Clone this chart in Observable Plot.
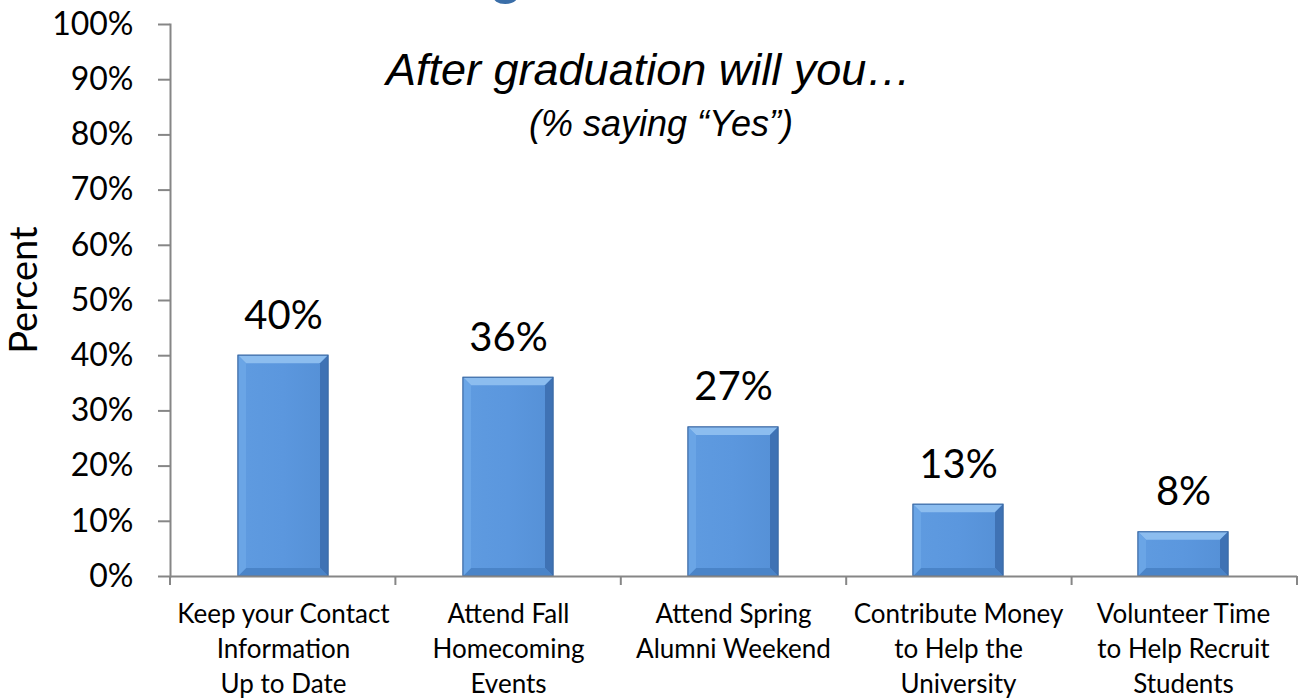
<!DOCTYPE html>
<html>
<head>
<meta charset="utf-8">
<script src="https://cdn.jsdelivr.net/npm/d3@7"></script>
<script src="https://cdn.jsdelivr.net/npm/@observablehq/plot@0.6"></script>
<style>
  html, body { margin: 0; padding: 0; background: #fff; overflow: hidden; }
  #wrap { position: relative; width: 1301px; height: 698px; overflow: hidden; }
  #wrap svg { position: absolute; left: 0; top: 0; }
  .title { position: absolute; text-align: left; font-family: "Liberation Sans", Arial, sans-serif; font-style: italic; color: #000; white-space: nowrap; }
  #t1 { left: 386px; top: 47px; font-size: 45px; line-height: 45px; }
  #t2 { left: 529px; top: 106px; font-size: 36px; line-height: 36px; }
  #ylab { position: absolute; left: -78px; top: 271px; width: 200px; text-align: center; font-family: Lato, sans-serif; font-size: 38px; line-height: 38px; transform: rotate(-90deg); color: #000; }
  #frag { position: absolute; left: 488px; top: -63px; font-family: "Liberation Sans", sans-serif; font-size: 64px; line-height: 64px; color: #3a6ea8; }
</style>
</head>
<body>
<div id="wrap">
  <div id="frag">g</div>
  <div class="title" id="t1">After graduation will you…</div>
  <div class="title" id="t2">(% saying “Yes”)</div>
  <div id="ylab">Percent</div>
</div>
<script>
const categories = [
  "Keep your Contact\nInformation\nUp to Date",
  "Attend Fall\nHomecoming\nEvents",
  "Attend Spring\nAlumni Weekend",
  "Contribute Money\nto Help the\nUniversity",
  "Volunteer Time\nto Help Recruit\nStudents"
];
const values = [0.40, 0.36, 0.27, 0.13, 0.08];
const yTicks = [0, 0.1, 0.2, 0.3, 0.4, 0.5, 0.6, 0.7, 0.8, 0.9, 1.0];

const data = categories.map((c, i) => ({cat: c, value: values[i]}));
const axisColor = "#868686";

const plot = Plot.plot({
  width: 1301,
  height: 698,
  marginLeft: 170,
  marginRight: 4,
  marginTop: 24,
  marginBottom: 122,
  style: {fontFamily: "Lato, sans-serif", color: "#000", background: "transparent"},
  x: {domain: categories, paddingInner: 0.6, paddingOuter: 0.3},
  y: {domain: [0, 1]},
  marks: [
    Plot.barY(data, {x: "cat", y: "value", fill: "url(#barGrad)", stroke: "#3b6aa6", strokeWidth: 1, className: "bars"}),
    Plot.axisY({ticks: yTicks, tickFormat: d3.format(".0%"), tickSize: 12, tickPadding: 25, fontSize: 32, stroke: axisColor, strokeWidth: 2, strokeOpacity: 1, label: null}),
    Plot.axisX({tickSize: 0, tickPadding: 21, fontSize: 26, lineHeight: 1.36, label: null}),
    Plot.frame({anchor: "left", stroke: axisColor, strokeWidth: 2}),
    Plot.ruleY([0], {stroke: axisColor, strokeWidth: 2}),
    Plot.text(data, {x: "cat", y: "value", text: d => d3.format(".0%")(d.value), dy: -40, fontSize: 40, fill: "#000"})
  ]
});

document.getElementById("wrap").appendChild(plot);

// gradient defs
const svg = d3.select(plot);
const defs = svg.insert("defs", ":first-child");
const g = defs.append("linearGradient").attr("id", "barGrad").attr("x1", 0).attr("x2", 1).attr("y1", 0).attr("y2", 0);
g.append("stop").attr("offset", "0%").attr("stop-color", "#5f9be0");
g.append("stop").attr("offset", "50%").attr("stop-color", "#5b97de");
g.append("stop").attr("offset", "100%").attr("stop-color", "#5590d6");

// bevel overlays on each bar, from rendered positions
const bev = 8;
svg.selectAll("g.bars rect").each(function() {
  const r = d3.select(this);
  const x = +r.attr("x"), y = +r.attr("y"), w = +r.attr("width"), h = +r.attr("height");
  const b = Math.min(bev, h / 3);
  const parent = d3.select(this.parentNode);
  const poly = (pts, fill) => parent.append("polygon").attr("points", pts.map(p => p.join(",")).join(" ")).attr("fill", fill).attr("stroke", "none");
  poly([[x, y], [x + w, y], [x + w - b, y + b], [x + b, y + b]], "#8cbdef");
  poly([[x + w, y], [x + w, y + h], [x + w - b, y + h - b], [x + w - b, y + b]], "#3f72b4");
  poly([[x, y + h], [x + w, y + h], [x + w - b, y + h - b], [x + b, y + h - b]], "#4a84c8");
  poly([[x, y], [x + b, y + b], [x + b, y + h - b], [x, y + h]], "#6aa5e6");
  parent.append("rect").attr("x", x).attr("y", y).attr("width", w).attr("height", h).attr("fill", "none").attr("stroke", "#3b6aa6").attr("stroke-width", 1);
});

// category boundary ticks on x axis
const xs = plot.scale("x");
const ys = plot.scale("y");
const [r0, r1] = xs.range;
const n = categories.length;
const y0 = ys.apply(0);
const tg = svg.append("g");
for (let i = 0; i <= n; i++) {
  const xp = r0 + i * (r1 - r0) / n;
  tg.append("line").attr("x1", xp).attr("x2", xp).attr("y1", y0).attr("y2", y0 + 9).attr("stroke", axisColor).attr("stroke-width", 2);
}
</script>
</body>
</html>
